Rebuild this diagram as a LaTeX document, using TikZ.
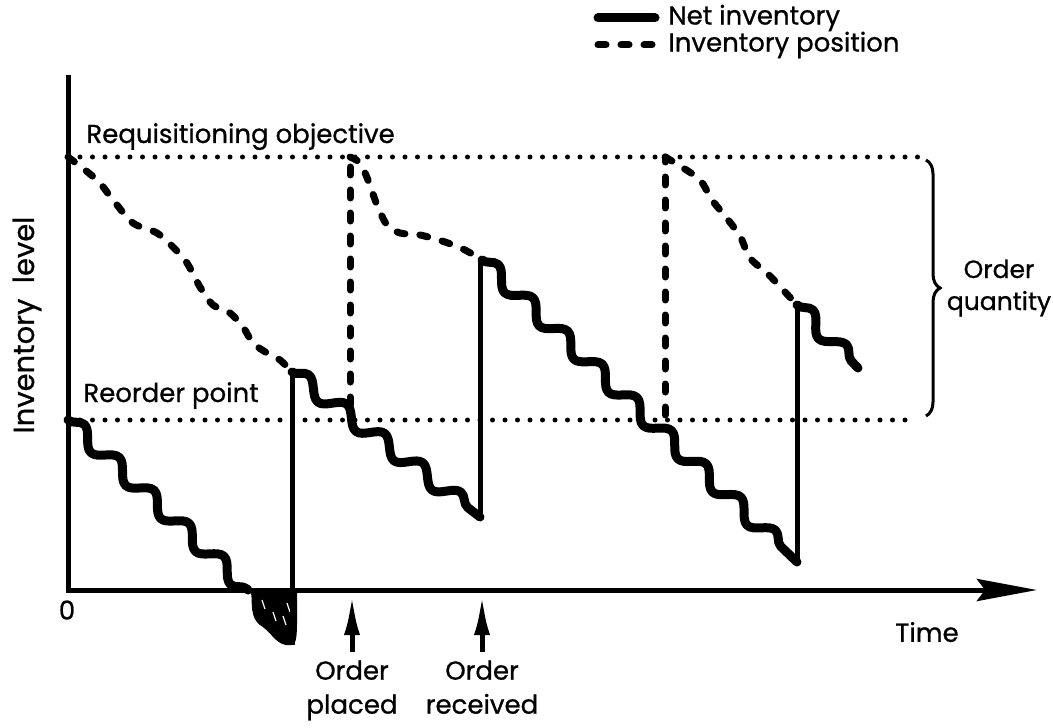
\documentclass[tikz,border=0pt]{standalone}
\usepackage{fontspec}
\setmainfont{Poppins}[FakeBold=0.8]
\usetikzlibrary{arrows.meta, decorations.pathmorphing, decorations.pathreplacing}

\begin{document}
\begin{tikzpicture}[x=0.5pt, y=-0.5pt,
    lbl/.style ={font=\fontsize{13}{17}\selectfont, inner sep=0pt},
    axisline/.style ={line width=2.5pt},
    netline/.style ={line width=4.5pt, line cap=round, line join=round},
    netinv/.style ={netline, decorate, decoration={snake, segment length=24pt, amplitude=4pt}},
    jump/.style ={line width=2.5pt},
    invpos/.style ={line width=3.5pt, line cap=round, dash pattern=on 4pt off 7.5pt},
    levelline/.style ={line width=2.5pt, line cap=round, dash pattern=on 0pt off 6.25pt},
    orderarrow/.style ={line width=2.5pt, shorten <=4pt, -{Latex[length=20pt, width=8pt]}}]

    \useasboundingbox (0,0) rectangle (1053,727);

    %ejes
    \coordinate (O) at (68,590);
    \coordinate (ytop) at (68,75);
    \coordinate (xend) at (1037,590);
    \draw[axisline, -{Stealth[length=30pt, width=11pt, inset=4pt]}] (ytop) -- (O) -- (xend);
    \node[lbl] (zero) at (67,610) {0};
    \node[lbl] (time) at (927,632) {Time};
    \node[lbl, font=\fontsize{14.5}{17}\selectfont, rotate=90] (ylbl) at (27,325) {Inventory\ \ level};

    %niveles
    \coordinate (ro0) at (80,157);
    \coordinate (ro1) at (918,157);
    \coordinate (rp0) at (80,420);
    \coordinate (rp1) at (910,420);
    \draw[levelline] (ro0) -- (ro1);
    \draw[levelline] (rp0) -- (rp1);
    \node[lbl, anchor=base west] (rolbl) at (86,143) {Requisitioning objective};
    \node[lbl, anchor=base west] (rplbl) at (83,402) {Reorder point};

    \draw[line width=1.5pt, decorate, decoration={brace, amplitude=7pt}] (926,160) -- (926,416);
    \node[lbl, font=\fontsize{12.5}{16}\selectfont, align=center] (qty) at (999,288) {Order\\quantity};

    %inventario neto
    \coordinate (a0) at (68,420);
    \coordinate (a1) at (248,590);
    \coordinate (b0) at (292,372);
    \coordinate (b1) at (480,517);
    \coordinate (c0) at (482,260);
    \coordinate (c1) at (797,562);
    \coordinate (d0) at (797,305);
    \coordinate (d1) at (858,368);
    \coordinate (s1) at (292,645);

    \draw[netinv] (a0) -- (a1);
    \fill (a1) .. controls (256,592) and (246,614) .. (260,625)
        .. controls (274,634) and (276,647) .. (s1)
        .. controls (298,644) and (297,630) .. (297,590) -- cycle;
    \foreach \x/\y in {262/600, 273/612, 283/616, 287/603}
        \draw[white, line width=0.6pt] (\x,\y) -- ++(3,9);
    \draw[jump] (s1) -- (b0);
    \draw[netinv] (b0) -- (b1);
    \draw[jump] (b1) -- (480,260);
    \draw[netinv] (c0) -- (c1);
    \draw[jump] (c1) -- (d0);
    \draw[netinv] (d0) -- (d1);

    %posicion de inventario
    \coordinate (p1) at (350,157);
    \coordinate (p2) at (665,157);
    \draw[invpos] plot[smooth] coordinates {(68,157) (97,180) (113,200) (133,223) (157,233)
        (173,247) (187,263) (200,287) (213,305) (230,313) (243,327) (253,343) (267,353) (280,360) (b0)};
    \draw[invpos] (350,405) -- (p1);
    \draw[invpos] plot[smooth] coordinates {(p1) (360,163) (368,180) (377,205) (387,225)
        (400,233) (420,235) (445,242) (465,250) (c0)};
    \draw[invpos] (665,415) -- (p2);
    \draw[invpos] plot[smooth] coordinates {(p2) (680,166) (700,180) (712,200) (725,216)
        (740,236) (750,258) (770,276) (d0)};

    %pedidos
    \node[lbl, align=center, anchor=north] (placed) at (352,660) {Order\\placed};
    \node[lbl, align=center, anchor=north] (received) at (482,660) {Order\\received};
    \draw[orderarrow] (placed.north) -- (352,595);
    \draw[orderarrow] (received.north) -- (482,595);

    %leyenda
    \node[lbl, anchor=west] (netlbl) at (668,18) {Net inventory};
    \node[lbl, anchor=west] (poslbl) at (668,45) {Inventory position};
    \draw[netline] (598,18) -- (655,18);
    \draw[invpos] (598,45) -- (655,45);
\end{tikzpicture}
\end{document}
